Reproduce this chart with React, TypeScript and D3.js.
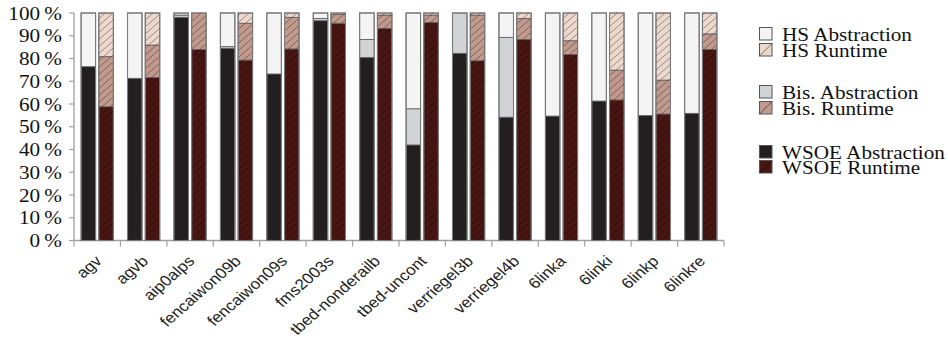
import React from 'react'
import { scaleBand, scaleLinear, range } from 'd3'

const categories = ['agv', 'agvb', 'aip0alps', 'fencaiwon09b', 'fencaiwon09s', 'fms2003s', 'tbed-nonderailb', 'tbed-uncont', 'verriegel3b', 'verriegel4b', '6linka', '6linki', '6linkp', '6linkre']

// abstraction bar (left): WSOE bottom, Bis. middle, HS top
const wsoeAbs = [76.4, 71.3, 98.1, 84.5, 73.2, 96.6, 80.4, 42.0, 82.3, 54.2, 54.7, 61.3, 54.9, 55.9]
const bisAbs = [0, 0, 1.0, 0.7, 0, 1.0, 8.0, 15.9, 17.7, 35.1, 0, 0, 0, 0]
const hsAbs = [23.6, 28.7, 0.9, 14.8, 26.8, 2.4, 11.6, 42.1, 0, 10.7, 45.3, 38.7, 45.1, 44.1]

// runtime bar (right)
const wsoeRun = [58.8, 71.7, 84.0, 79.3, 84.2, 95.5, 93.3, 95.9, 79.0, 88.4, 81.8, 61.8, 55.6, 84.0]
const bisRun = [22.0, 14.2, 16.0, 16.2, 13.9, 3.8, 5.8, 3.2, 20.1, 9.2, 6.0, 13.1, 14.9, 6.8]
const hsRun = [19.2, 14.1, 0, 4.5, 1.9, 0.7, 0.9, 0.9, 0.9, 2.4, 12.2, 25.1, 29.5, 9.2]

const yTicks = [0, 10, 20, 30, 40, 50, 60, 70, 80, 90, 100]

const legendLabels = ['HS Abstraction', 'HS Runtime', 'Bis. Abstraction', 'Bis. Runtime', 'WSOE Abstraction', 'WSOE Runtime']

const colors = {
  hsAbs: '#f4f4f4',
  hsRun: '#ecd8cc',
  bisAbs: '#d2d3d5',
  bisRun: '#c29a8d',
  wsoeAbs: '#231f20',
  wsoeRun: '#481512',
}

const W = 948
const H = 338
const sx = 1.145 // the source figure is stretched horizontally
const c45 = Math.SQRT1_2

export default function App() {
  const x = scaleBand().domain(categories).range([74, 724])
  const inner = scaleBand().domain(['abs', 'run']).range([0, x.bandwidth()])
    .paddingInner(0.18).paddingOuter(0.4)
  const y = scaleLinear().domain([0, 100]).range([240.5, 13])

  const stacks = (vals, keys, cols, hatched) =>
    categories.map((c, i) => {
      let base = 0
      return keys.map((k, j) => {
        const v = vals[j][i]
        const seg = { c, y0: base, y1: base + v, fill: cols[j], hatched, key: `${c}-${k}` }
        base += v
        return seg
      })
    })

  const absSegs = stacks([wsoeAbs, bisAbs, hsAbs], ['w', 'b', 'h'], [colors.wsoeAbs, colors.bisAbs, colors.hsAbs], false)
  const runSegs = stacks([wsoeRun, bisRun, hsRun], ['w', 'b', 'h'], [colors.wsoeRun, colors.bisRun, colors.hsRun], true)

  const legendTops = [27, 43, 85, 101, 145, 160]
  const legendFills = [colors.hsAbs, colors.hsRun, colors.bisAbs, colors.bisRun, colors.wsoeAbs, colors.wsoeRun]

  const drawBar = (segs, which) =>
    segs.map((group, i) => {
      const bx = x(categories[i]) + inner(which)
      const bw = inner.bandwidth()
      return (
        <g key={categories[i] + which}>
          {group.filter(s => s.y1 - s.y0 > 0).map(s => (
            <g key={s.key}>
              <rect x={bx} y={y(s.y1)} width={bw} height={y(s.y0) - y(s.y1)} fill={s.fill}
                stroke="#5a5a5a" strokeWidth={0.8} />
              {s.hatched && (
                <rect x={bx} y={y(s.y1)} width={bw} height={y(s.y0) - y(s.y1)} fill="url(#hatch)" />
              )}
            </g>
          ))}
          <rect x={bx} y={y(100)} width={bw} height={y(0) - y(100)} fill="none" stroke="#7a7a7a" strokeWidth={1.1} />
        </g>
      )
    })

  return (
    <svg width={W} height={H} style={{ position: 'absolute', left: 0, top: 0, background: '#fff' }}>
      <defs>
        <pattern id="hatch" patternUnits="userSpaceOnUse" width={8} height={7}>
          <line x1={-1} y1={7.875} x2={9} y2={-0.875} stroke="#000" strokeOpacity={0.45} strokeWidth={0.8} />
        </pattern>
      </defs>

      {/* y axis */}
      <line x1={74} x2={74} y1={y(100)} y2={y(0)} stroke="#a0a0a0" strokeWidth={1.3} />
      {yTicks.map(t => (
        <g key={t}>
          <line x1={69} x2={74} y1={y(t)} y2={y(t)} stroke="#a0a0a0" strokeWidth={1.2} />
          <text transform={`translate(62,${y(t) + 6.5}) scale(${sx},1)`} textAnchor="end"
            fontFamily="'Liberation Serif', serif" fontSize={18.5} fill="#111">
            {t}{'\u2009'}%
          </text>
        </g>
      ))}

      {/* x axis */}
      <line x1={74} x2={724} y1={y(0)} y2={y(0)} stroke="#a0a0a0" strokeWidth={1.3} />
      {range(categories.length + 1).map(i => {
        const xx = 74 + i * x.step()
        return <line key={i} x1={xx} x2={xx} y1={y(0)} y2={y(0) + 6} stroke="#a0a0a0" strokeWidth={1.2} />
      })}
      {categories.map(c => {
        const ax = x(c) + x.bandwidth() / 2 + 5.5
        return (
          <text key={c}
            transform={`matrix(${sx * c45},${-c45},${sx * c45},${c45},${ax},262)`}
            textAnchor="end" fontFamily="'Liberation Sans', Arial, sans-serif" fontSize={15} fill="#222">
            {c}
          </text>
        )
      })}

      {drawBar(absSegs, 'abs')}
      {drawBar(runSegs, 'run')}

      {/* legend */}
      {legendLabels.map((l, i) => (
        <g key={l}>
          <rect x={759.5} y={legendTops[i] + 0.5} width={12.5} height={12.5} fill={legendFills[i]} stroke="#555" strokeWidth={1} />
          {i % 2 === 1 && (
            <line x1={759.5} y1={legendTops[i] + 13} x2={772} y2={legendTops[i] + 0.5} stroke="#000" strokeOpacity={0.55} strokeWidth={0.9} />
          )}
          <text transform={`translate(782,${legendTops[i] + 13.5}) scale(${sx},1)`}
            fontFamily="'Liberation Serif', serif" fontSize={18.5} fill="#111">
            {l}
          </text>
        </g>
      ))}
    </svg>
  )
}
